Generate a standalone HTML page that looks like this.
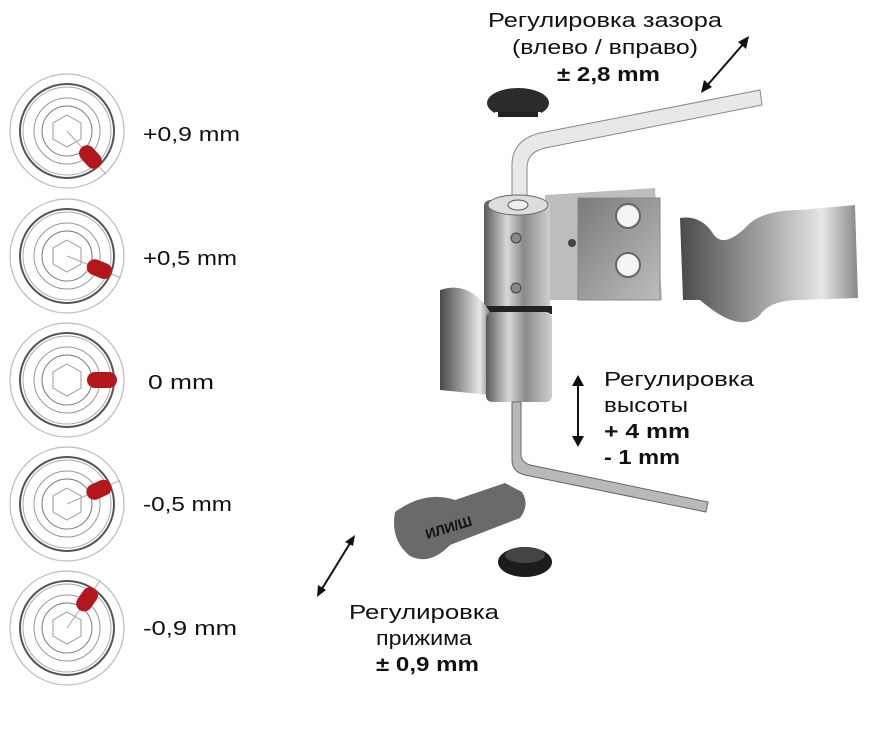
<!DOCTYPE html>
<html><head><meta charset="utf-8"><style>
html,body{margin:0;padding:0;background:#fff;}
svg{display:block;}
text{font-family:"Liberation Sans",sans-serif;fill:#111;}
</style></head><body>
<svg width="875" height="738" viewBox="0 0 875 738" xmlns="http://www.w3.org/2000/svg">
<defs>
<linearGradient id="met" x1="0" x2="1" y1="0" y2="0">
<stop offset="0" stop-color="#5a5a5a"/><stop offset="0.35" stop-color="#d8d8d8"/><stop offset="0.6" stop-color="#8a8a8a"/><stop offset="1" stop-color="#cfcfcf"/>
</linearGradient>
<linearGradient id="met2" x1="0" x2="1" y1="0" y2="0">
<stop offset="0" stop-color="#4a4a4a"/><stop offset="0.5" stop-color="#a9a9a9"/><stop offset="0.8" stop-color="#e6e6e6"/><stop offset="1" stop-color="#888"/>
</linearGradient>
<linearGradient id="plate" x1="0" x2="1" y1="0" y2="1">
<stop offset="0" stop-color="#7a7a7a"/><stop offset="1" stop-color="#bdbdbd"/>
</linearGradient>
<g id="dial">
<circle r="57" fill="#fff" stroke="#bbb" stroke-width="1.2"/>
<circle r="47" fill="none" stroke="#555" stroke-width="2"/>
<circle r="44" fill="none" stroke="#aaa" stroke-width="1"/>
<circle r="33" fill="none" stroke="#999" stroke-width="1"/>
<circle r="25" fill="none" stroke="#777" stroke-width="1"/>
<polygon points="0,-16 14,-8 14,8 0,16 -14,8 -14,-8" fill="none" stroke="#999" stroke-width="1"/>
</g>
</defs>

<g transform="translate(67,131)"><use href="#dial"/><g transform="rotate(48)"><line x1="0" y1="0" x2="58" y2="0" stroke="#aaa"/><rect x="22" y="-8" width="26" height="16" rx="8" fill="#b3161b"/></g></g>
<g transform="translate(67,256)"><use href="#dial"/><g transform="rotate(22)"><line x1="0" y1="0" x2="58" y2="0" stroke="#aaa"/><rect x="22" y="-8" width="26" height="16" rx="8" fill="#b3161b"/></g></g>
<g transform="translate(67,380)"><use href="#dial"/><g transform="rotate(0)"><rect x="20" y="-8" width="30" height="16" rx="8" fill="#b3161b"/></g></g>
<g transform="translate(67,504)"><use href="#dial"/><g transform="rotate(-24)"><line x1="0" y1="0" x2="58" y2="0" stroke="#aaa"/><rect x="22" y="-8" width="26" height="16" rx="8" fill="#b3161b"/></g></g>
<g transform="translate(67,628)"><use href="#dial"/><g transform="rotate(-55)"><line x1="0" y1="0" x2="58" y2="0" stroke="#aaa"/><rect x="22" y="-8" width="26" height="16" rx="8" fill="#b3161b"/></g></g>

<g font-size="20" lengthAdjust="spacingAndGlyphs">
<text x="143" y="141" textLength="97" lengthAdjust="spacingAndGlyphs">+0,9 mm</text>
<text x="143" y="265" textLength="94" lengthAdjust="spacingAndGlyphs">+0,5 mm</text>
<text x="148" y="389" textLength="66" lengthAdjust="spacingAndGlyphs">0 mm</text>
<text x="143" y="511" textLength="89" lengthAdjust="spacingAndGlyphs">-0,5 mm</text>
<text x="143" y="635" textLength="94" lengthAdjust="spacingAndGlyphs">-0,9 mm</text>

<text x="488" y="27" textLength="234" lengthAdjust="spacingAndGlyphs">Регулировка зазора</text>
<text x="512" y="54" textLength="186" lengthAdjust="spacingAndGlyphs">(влево / вправо)</text>
<text x="557" y="81" textLength="103" lengthAdjust="spacingAndGlyphs" font-weight="bold">± 2,8 mm</text>

<text x="349" y="619" textLength="150" lengthAdjust="spacingAndGlyphs">Регулировка</text>
<text x="376" y="645" textLength="96" lengthAdjust="spacingAndGlyphs">прижима</text>
<text x="376" y="671" textLength="103" lengthAdjust="spacingAndGlyphs" font-weight="bold">± 0,9 mm</text>

<text x="604" y="386" textLength="150" lengthAdjust="spacingAndGlyphs">Регулировка</text>
<text x="604" y="412" textLength="84" lengthAdjust="spacingAndGlyphs">высоты</text>
<text x="604" y="438" textLength="86" lengthAdjust="spacingAndGlyphs" font-weight="bold">+ 4 mm</text>
<text x="604" y="464" textLength="76" lengthAdjust="spacingAndGlyphs" font-weight="bold">- 1 mm</text>
</g>

<g stroke="#111" stroke-width="2" fill="#111">
<line x1="705" y1="88" x2="745" y2="42"/>
<polygon points="749,36 738,42 746,49" stroke="none"/>
<polygon points="701,93 712,87 704,80" stroke="none"/>
<line x1="578" y1="382" x2="578" y2="440"/>
<polygon points="578,375 572,386 584,386" stroke="none"/>
<polygon points="578,447 572,436 584,436" stroke="none"/>
<line x1="320" y1="592" x2="352" y2="540"/>
<polygon points="355,535 345,542 353,546" stroke="none"/>
<polygon points="317,597 318,585 326,590" stroke="none"/>
</g>

<!-- cap -->
<ellipse cx="518" cy="103" rx="31" ry="15" fill="#2b2b2b"/>
<rect x="495" y="112" width="46" height="6" fill="#fff"/>
<rect x="498" y="112" width="40" height="5" fill="#222"/>

<path d="M512,210 L512,165 Q512,140 540,133 L760,90 L762,105 L545,148 Q527,152 527,168 L527,210 z" fill="#e8e8e8" stroke="#888" stroke-width="1"/>

<path d="M545,195 L655,188 L662,300 L545,300 z" fill="#bdbdbd"/>
<rect x="578" y="198" width="82" height="102" fill="url(#plate)" stroke="#888"/>
<circle cx="628" cy="216" r="12" fill="#f4f4f4" stroke="#666" stroke-width="2"/>
<circle cx="628" cy="265" r="12" fill="#f4f4f4" stroke="#666" stroke-width="2"/>
<circle cx="572" cy="243" r="4" fill="#444"/>

<rect x="484" y="200" width="66" height="112" rx="6" fill="url(#met)"/>
<ellipse cx="518" cy="205" rx="30" ry="10" fill="#ddd" stroke="#666"/>
<ellipse cx="518" cy="205" rx="10" ry="5" fill="#eee" stroke="#555"/>
<circle cx="516" cy="238" r="5" fill="#888" stroke="#444"/>
<circle cx="516" cy="288" r="5" fill="#888" stroke="#444"/>
<rect x="486" y="306" width="66" height="8" fill="#222"/>

<path d="M440,290 Q470,280 490,312 L490,395 L440,390 z" fill="url(#met2)"/>
<rect x="486" y="312" width="66" height="90" rx="6" fill="url(#met)"/>

<path d="M512,402 L512,460 Q512,472 525,475 L706,512 L708,502 L530,465 Q521,462 521,455 L521,402 z" fill="#b9b9b9" stroke="#666"/>

<path d="M680,218 Q700,215 712,232 Q722,250 745,228 Q760,210 800,210 L855,205 L858,298 L800,300 Q770,300 760,315 Q740,335 700,300 L683,300 z" fill="url(#met2)"/>

<path d="M395,512 Q390,540 410,556 Q430,566 450,545 L520,518 Q530,505 522,492 L505,483 L455,500 Q425,490 395,512 z" fill="#6a6a6a"/>
<text x="425" y="535" font-size="14" fill="#ddd" font-weight="bold" transform="rotate(-17 440 530)">ИЛИ/Ш</text>

<ellipse cx="525" cy="562" rx="27" ry="15" fill="#1c1c1c"/>
<ellipse cx="525" cy="555" rx="20" ry="8" fill="#444"/>
</svg>
</body></html>
